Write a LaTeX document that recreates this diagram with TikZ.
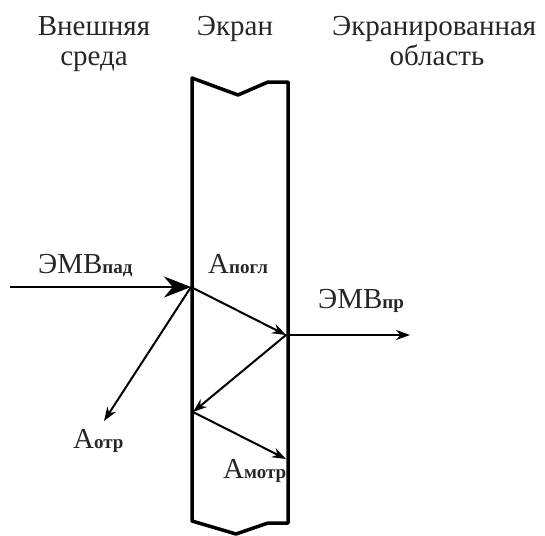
\documentclass[tikz,border=0pt]{standalone}
\usepackage{fontspec}
\setmainfont{Liberation Serif}
\usetikzlibrary{arrows.meta}
\newcommand\subtxt[1]{{\fontsize{19}{21}\selectfont\bfseries #1}}
\begin{document}
\begin{tikzpicture}[x=1pt,y=-1pt,
  lbl/.style={anchor=base west,inner sep=0pt,font=\fontsize{29}{31}\selectfont,text=black!85},
  hdr/.style={anchor=base,inner sep=0pt,font=\fontsize{29}{31}\selectfont,text=black!85},
  ray/.style={line width=2pt,-{Stealth[length=14pt,width=10pt]}},
  screen/.style={line width=3.5pt,line join=round}]
\useasboundingbox (0,0) rectangle (545,535);
% headers
\node[hdr] (h1) at (94,35) {Внешняя};
\node[hdr] (h2) at (94,65) {среда};
\node[hdr] (h3) at (235,35) {Экран};
\node[lbl] (h4) at (332,35) {Экранированная};
\node[hdr] (h5) at (437,65) {область};
% screen
\draw[screen] (192,78) -- (238,95) -- (268,82) -- (288,82) -- (288,523) -- (268,523) -- (236,534) -- (192,521) -- cycle;
% points
\coordinate (S) at (10,287);
\coordinate (P1) at (191,287);
\coordinate (P2) at (286,335);
\coordinate (P3) at (193,412);
\coordinate (P4) at (286,459);
\coordinate (R) at (104,421);
\coordinate (T) at (410,335);
% rays
\draw[line width=2pt,-{Stealth[length=27pt,width=21pt]}] (S) -- (P1);
\draw[ray] (P1) -- (P2);
\draw[ray] (P1) -- (R);
\draw[ray] (P2) -- (T);
\draw[ray] (P2) -- (P3);
\draw[ray] (P3) -- (P4);
% labels
\node[lbl] (l1) at (38,273) {ЭМВ\subtxt{пад}};
\node[lbl] (l2) at (208,273) {А\subtxt{погл}};
\node[lbl] (l3) at (318,308) {ЭМВ\subtxt{пр}};
\node[lbl] (l4) at (73,448) {А\subtxt{отр}};
\node[lbl] (l5) at (223,478) {А\subtxt{мотр}};
\end{tikzpicture}
\end{document}
